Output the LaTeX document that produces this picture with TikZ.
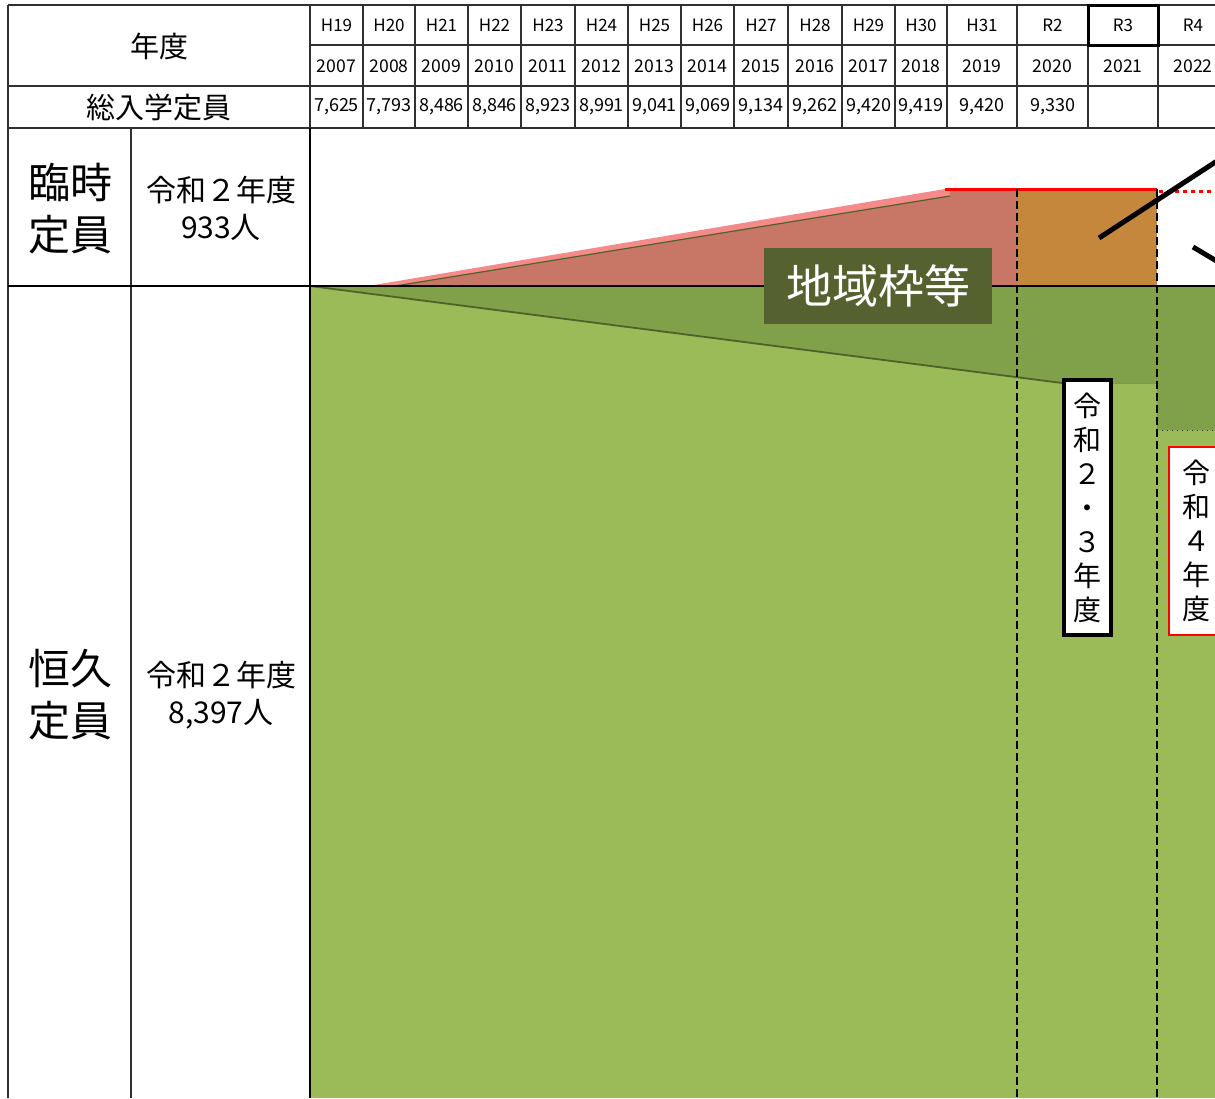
\documentclass[tikz,border=0pt]{standalone}
\usepackage{fontspec}
\setmainfont{Noto Sans CJK JP}
\definecolor{fieldgreen}{HTML}{9BBB59}
\definecolor{shadegreen}{HTML}{80A049}
\definecolor{edgegreen}{HTML}{4F6228}
\definecolor{lightred}{HTML}{F48A8A}
\definecolor{rustred}{HTML}{C87666}
\definecolor{ochre}{HTML}{C4873C}
\definecolor{labelgreen}{HTML}{556230}
\definecolor{gridgray}{HTML}{303030}
\tikzstyle{eracell}=[font=\fontsize{8.5}{8.5}\selectfont]
\tikzstyle{yearcell}=[font=\fontsize{8.8}{8.8}\selectfont]
\tikzstyle{totalcell}=[font=\fontsize{9}{9}\selectfont]
\tikzstyle{headcell}=[font=\fontsize{14.5}{14.5}\selectfont]
\tikzstyle{kindcell}=[align=center, font=\fontsize{21}{26}\selectfont]
\tikzstyle{amountcell}=[align=center, font=\fontsize{15}{18.5}\selectfont]
\tikzstyle{grid}=[gridgray, line width=0.7pt]
\tikzstyle{yearbox}=[draw, fill=white, align=center, inner sep=0pt, font=\fontsize{14}{17}\selectfont]
\tikzstyle{divider}=[line width=1.1pt, dash pattern=on 4pt off 2pt]
\begin{document}
\begin{tikzpicture}[x=0.5pt, y=-0.5pt]
    \useasboundingbox (0,0) rectangle (1215,1098);
    \clip (0,0) rectangle (1215,1098);
% Permanent quota
    \fill[fieldgreen] (310,286) rectangle (1215,1098);
    \fill[shadegreen] (310,286) -- (1062,383) -- (1157,383) -- (1157,430) -- (1215,430) -- (1215,286) -- cycle;
    \draw[edgegreen, line width=0.9pt] (310,286) -- (1062,383);
    \draw[edgegreen!70, line width=0.5pt] (1113,383) -- (1157,383);
    \draw[gridgray, line width=0.5pt, dotted] (1157,430) -- (1215,430);
% Temporary quota
    \fill[lightred] (368,286) -- (945,189) -- (1017,189) -- (1017,286) -- cycle;
    \fill[rustred] (395,286) -- (950,196) -- (950,189) -- (1017,189) -- (1017,286) -- cycle;
    \draw[edgegreen, line width=0.6pt] (395,286) -- (950,196);
    \fill[ochre] (1017,189) rectangle (1157,286);
    \draw[red, line width=1.5pt] (945,189) -- (1157,189);
    \draw[red, line width=1.5pt, dash pattern=on 2pt off 2pt] (1159,191) -- (1215,191);
% Table
    \draw[grid] (8,5) -- (1215,5);
    \draw[grid] (310,45) -- (1215,45);
    \draw[grid] (8,86) -- (1215,86);
    \draw[grid] (8,128) -- (1215,128);
    \draw[grid] (8,5) -- (8,1098);
    \draw[grid] (131,128) -- (131,1098);
    \draw[grid] (310,5) -- (310,128);
    \draw[grid] (363,5) -- (363,128);
    \draw[grid] (415,5) -- (415,128);
    \draw[grid] (468,5) -- (468,128);
    \draw[grid] (521,5) -- (521,128);
    \draw[grid] (575,5) -- (575,128);
    \draw[grid] (628,5) -- (628,128);
    \draw[grid] (681,5) -- (681,128);
    \draw[grid] (734,5) -- (734,128);
    \draw[grid] (788,5) -- (788,128);
    \draw[grid] (842,5) -- (842,128);
    \draw[grid] (895,5) -- (895,128);
    \draw[grid] (947,5) -- (947,128);
    \draw[grid] (1017,5) -- (1017,128);
    \draw[grid] (1088,5) -- (1088,128);
    \draw[grid] (1158,5) -- (1158,128);
    \draw[line width=1.5pt] (1088,5) rectangle (1158,45);
    \draw[line width=0.8pt] (8,286) -- (1215,286);
    \draw[line width=1.3pt] (310,128) -- (310,1098);
% Year dividers
    \draw[divider] (1017,189) -- (1017,1098);
    \draw[divider] (1157,189) -- (1157,1098);
% Headings
    \node[headcell] (nendo) at (159,46) {年度};
    \node[headcell] (total) at (159,107) {総入学定員};
    \node[eracell] (h19) at (336.5,25) {H19};
    \node[eracell] (h20) at (389,25) {H20};
    \node[eracell] (h21) at (441.5,25) {H21};
    \node[eracell] (h22) at (494.5,25) {H22};
    \node[eracell] (h23) at (548,25) {H23};
    \node[eracell] (h24) at (601.5,25) {H24};
    \node[eracell] (h25) at (654.5,25) {H25};
    \node[eracell] (h26) at (707.5,25) {H26};
    \node[eracell] (h27) at (761,25) {H27};
    \node[eracell] (h28) at (815,25) {H28};
    \node[eracell] (h29) at (868.5,25) {H29};
    \node[eracell] (h30) at (921,25) {H30};
    \node[eracell] (h31) at (982,25) {H31};
    \node[eracell] (r2) at (1052.5,25) {R2};
    \node[eracell] (r3) at (1123,25) {R3};
    \node[eracell] (r4) at (1193,25) {R4};
    \node[yearcell] (y2007) at (336.5,66) {2007};
    \node[yearcell] (y2008) at (389,66) {2008};
    \node[yearcell] (y2009) at (441.5,66) {2009};
    \node[yearcell] (y2010) at (494.5,66) {2010};
    \node[yearcell] (y2011) at (548,66) {2011};
    \node[yearcell] (y2012) at (601.5,66) {2012};
    \node[yearcell] (y2013) at (654.5,66) {2013};
    \node[yearcell] (y2014) at (707.5,66) {2014};
    \node[yearcell] (y2015) at (761,66) {2015};
    \node[yearcell] (y2016) at (815,66) {2016};
    \node[yearcell] (y2017) at (868.5,66) {2017};
    \node[yearcell] (y2018) at (921,66) {2018};
    \node[yearcell] (y2019) at (982,66) {2019};
    \node[yearcell] (y2020) at (1052.5,66) {2020};
    \node[yearcell] (y2021) at (1123,66) {2021};
    \node[yearcell] (y2022) at (1193,66) {2022};
    \node[totalcell] (n2007) at (336.5,107) {7,625};
    \node[totalcell] (n2008) at (389,107) {7,793};
    \node[totalcell] (n2009) at (441.5,107) {8,486};
    \node[totalcell] (n2010) at (494.5,107) {8,846};
    \node[totalcell] (n2011) at (548,107) {8,923};
    \node[totalcell] (n2012) at (601.5,107) {8,991};
    \node[totalcell] (n2013) at (654.5,107) {9,041};
    \node[totalcell] (n2014) at (707.5,107) {9,069};
    \node[totalcell] (n2015) at (761,107) {9,134};
    \node[totalcell] (n2016) at (815,107) {9,262};
    \node[totalcell] (n2017) at (868.5,107) {9,420};
    \node[totalcell] (n2018) at (921,107) {9,419};
    \node[totalcell] (n2019) at (982,107) {9,420};
    \node[totalcell] (n2020) at (1052.5,107) {9,330};
% Side labels
    \node[kindcell] (rinji) at (70,209) {臨時\\定員};
    \node[amountcell] (rinjinum) at (221,208) {令和２年度\\933人};
    \node[kindcell] (koukyu) at (70,695) {恒久\\定員};
    \node[amountcell] (koukyunum) at (221,695) {令和２年度\\8,397人};
% Callouts
    \node[fill=labelgreen, text=white, minimum width=114pt, minimum height=38pt, inner sep=0pt, font=\fontsize{23}{23}\selectfont] (region) at (878,286) {地域枠等};
    \draw[line width=2.5pt] (1099,238) -- (1240,146);
    \draw[line width=2.5pt] (1193,247) -- (1230,269);
    \node[yearbox, line width=2pt, minimum width=23.5pt, minimum height=127.5pt] (r23box) at (1087.5,507.5) {令\\和\\２\\・\\３\\年\\度};
    \node[yearbox, draw=red, line width=1pt, minimum width=27pt, minimum height=94pt] (r4box) at (1196,540.5) {令\\和\\４\\年\\度};
\end{tikzpicture}
\end{document}
